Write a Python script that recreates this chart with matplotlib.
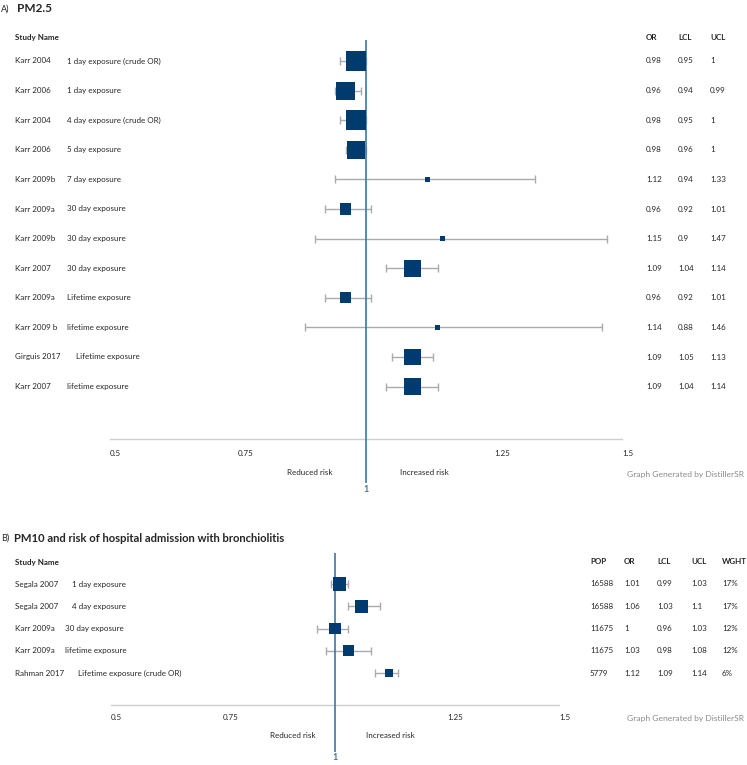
import numpy as np
import matplotlib
matplotlib.use("Agg")
import matplotlib.pyplot as plt
import matplotlib.transforms as mtransforms

plt.rcParams['font.family'] = ['Lato', 'DejaVu Sans']

# ---- panel A: PM2.5 ----
studies_a = ["Karr 2004", "Karr 2006", "Karr 2004", "Karr 2006", "Karr 2009b",
             "Karr 2009a", "Karr 2009b", "Karr 2007", "Karr 2009a", "Karr 2009 b",
             "Girguis 2017", "Karr 2007"]
exposure_a = ["1 day exposure (crude OR)", "1 day exposure", "4 day exposure (crude OR)",
              "5 day exposure", "7 day exposure", "30 day exposure", "30 day exposure",
              "30 day exposure", "Lifetime exposure", "lifetime exposure",
              "Lifetime exposure", "lifetime exposure"]
or_a = [0.98, 0.96, 0.98, 0.98, 1.12, 0.96, 1.15, 1.09, 0.96, 1.14, 1.09, 1.09]
lcl_a = [0.95, 0.94, 0.95, 0.96, 0.94, 0.92, 0.9, 1.04, 0.92, 0.88, 1.05, 1.04]
ucl_a = [1, 0.99, 1, 1, 1.33, 1.01, 1.47, 1.14, 1.01, 1.46, 1.13, 1.14]
or_a_txt = ["0.98", "0.96", "0.98", "0.98", "1.12", "0.96", "1.15", "1.09", "0.96", "1.14", "1.09", "1.09"]
lcl_a_txt = ["0.95", "0.94", "0.95", "0.96", "0.94", "0.92", "0.9", "1.04", "0.92", "0.88", "1.05", "1.04"]
ucl_a_txt = ["1", "0.99", "1", "1", "1.33", "1.01", "1.47", "1.14", "1.01", "1.46", "1.13", "1.14"]
# relative study weight (no weight column shown)
weight_a = [39, 32, 39, 32, 2.4, 12, 2.4, 28, 12, 2.4, 28, 28]

# ---- panel B: PM10 ----
studies_b = ["Segala 2007", "Segala 2007", "Karr 2009a", "Karr 2009a", "Rahman 2017"]
exposure_b = ["1 day exposure", "4 day exposure", "30 day exposure", "lifetime exposure",
              "Lifetime exposure (crude OR)"]
pop_b = ["16588", "16588", "11675", "11675", "5779"]
or_b = [1.01, 1.06, 1.0, 1.03, 1.12]
lcl_b = [0.99, 1.03, 0.96, 0.98, 1.09]
ucl_b = [1.03, 1.1, 1.03, 1.08, 1.14]
or_b_txt = ["1.01", "1.06", "1", "1.03", "1.12"]
lcl_b_txt = ["0.99", "1.03", "0.96", "0.98", "1.09"]
ucl_b_txt = ["1.03", "1.1", "1.03", "1.08", "1.14"]
wght_b = [17, 17, 12, 12, 6]

ticks = [0.5, 0.75, 1.25, 1.5]
tick_txt = ["0.5", "0.75", "1.25", "1.5"]

W, H = 747, 765
BOX = "#003b70"
CI = "#ababab"
REF = "#3d77a6"
TXT = "#262626"
FS = 5.8

fig = plt.figure(figsize=(W / 100, H / 100), dpi=100)


def px_axes(left, right, top, bottom):
    return fig.add_axes([left / W, 1 - bottom / H, (right - left) / W, (bottom - top) / H])


def forest(ax, y0, dy, top, bottom, orv, lcl, ucl, side):
    n = len(orv)
    rows = np.arange(n)
    ax.set_xlim(0.5, 1.5)
    ax.set_ylim((bottom - y0) / dy, (top - y0) / dy)
    ax.axis("off")
    err = [np.array(orv) - np.array(lcl), np.array(ucl) - np.array(orv)]
    ax.errorbar(orv, rows, xerr=err, fmt="none", ecolor=CI, elinewidth=1,
                capsize=3, capthick=1, zorder=1)
    ax.scatter(orv, rows, marker="s", s=(np.array(side) * 0.72) ** 2,
               color=BOX, linewidths=0, zorder=3)
    ax.axvline(1, color=REF, lw=1.2, zorder=2)
    return rows


def panel_texts(ax, y0, dy, axis_y, tick_y, risk_y, one_y, gen_y, xl, xr, red_px, inc_px):
    trf = mtransforms.blended_transform_factory(fig.transFigure, ax.transData)
    to_d = lambda y: (y - y0) / dy
    to_x = lambda px: 0.5 + (px - xl) / (xr - xl)
    ax.plot([0.5, 1.5], [to_d(axis_y)] * 2, color="#cfcfcf", lw=1, clip_on=False, zorder=0)
    for t, s in zip(ticks, tick_txt):
        ax.text(t, to_d(tick_y), s, fontsize=FS, color=TXT, ha="left", va="center")
    ax.text(to_x(red_px), to_d(risk_y), "Reduced risk", fontsize=FS, color=TXT,
            ha="right", va="center")
    ax.text(to_x(inc_px), to_d(risk_y), "Increased risk", fontsize=FS, color=TXT,
            ha="left", va="center")
    ax.text(1, to_d(one_y), "1", fontsize=FS + 0.6, color=REF, ha="center", va="center",
            fontweight="bold", clip_on=False)
    ax.text(744 / W, to_d(gen_y), "Graph Generated by DistillerSR", transform=trf,
            fontsize=FS + 0.3, color="#8a8a8a", ha="right", va="center")
    return trf


# panel A
axA = px_axes(110, 622, 40, 483)
rowsA = forest(axA, 61, 29.6, 40, 483, or_a, lcl_a, ucl_a, 3.2 * np.sqrt(weight_a))
trA = panel_texts(axA, 61, 29.6, 439, 453, 472, 490, 474, 110, 622, 333, 400)
fig.text(1 / W, 1 - 9 / H, "A)", fontsize=6.5, color=TXT, va="center")
fig.text(17 / W, 1 - 9 / H, "PM2.5", fontsize=8.5, color=TXT, va="center", fontweight="bold")
hdrA = (38 - 61) / 29.6
axA.text(15 / W, hdrA, "Study Name", transform=trA, fontsize=FS, fontweight="bold", color=TXT, va="center")
for x, s in zip([646, 678, 710], ["OR", "LCL", "UCL"]):
    axA.text(x / W, hdrA, s, transform=trA, fontsize=FS, fontweight="bold", color=TXT, va="center")
exp_x_a = [67, 67, 67, 67, 67, 67, 67, 67, 67, 67, 76, 67]
for i in rowsA:
    axA.text(15 / W, i, studies_a[i], transform=trA, fontsize=FS, color=TXT, va="center")
    axA.text(exp_x_a[i] / W, i, exposure_a[i], transform=trA, fontsize=FS, color=TXT, va="center")
    axA.text(646 / W, i, or_a_txt[i], transform=trA, fontsize=FS, color=TXT, va="center")
    axA.text(678 / W, i, lcl_a_txt[i], transform=trA, fontsize=FS, color=TXT, va="center")
    axA.text(710 / W, i, ucl_a_txt[i], transform=trA, fontsize=FS, color=TXT, va="center")

# panel B
axB = px_axes(111, 559, 553, 752)
rowsB = forest(axB, 584, 22.25, 553, 752, or_b, lcl_b, ucl_b, 3.2 * np.sqrt(wght_b))
trB = panel_texts(axB, 584, 22.25, 705, 718, 735, 757, 718, 111, 559, 315, 366)
fig.text(1 / W, 1 - 538 / H, "B)", fontsize=6.5, color=TXT, va="center")
fig.text(14 / W, 1 - 538 / H, "PM10 and risk of hospital admission with bronchiolitis",
         fontsize=8.1, color=TXT, va="center", fontweight="bold")
hdrB = (562 - 584) / 22.25
axB.text(15 / W, hdrB, "Study Name", transform=trB, fontsize=FS, fontweight="bold", color=TXT, va="center")
col_b = [590, 624, 657, 691, 722]
for x, s in zip(col_b, ["POP", "OR", "LCL", "UCL", "WGHT"]):
    axB.text(x / W, hdrB, s, transform=trB, fontsize=FS, fontweight="bold", color=TXT, va="center")
exp_x_b = [72, 72, 65, 65, 78]
for i in rowsB:
    axB.text(15 / W, i, studies_b[i], transform=trB, fontsize=FS, color=TXT, va="center")
    axB.text(exp_x_b[i] / W, i, exposure_b[i], transform=trB, fontsize=FS, color=TXT, va="center")
    vals = [pop_b[i], or_b_txt[i], lcl_b_txt[i], ucl_b_txt[i], f"{wght_b[i]}%"]
    for x, s in zip(col_b, vals):
        axB.text(x / W, i, s, transform=trB, fontsize=FS, color=TXT, va="center")

fig.savefig("out.png", dpi=100, facecolor="white")
